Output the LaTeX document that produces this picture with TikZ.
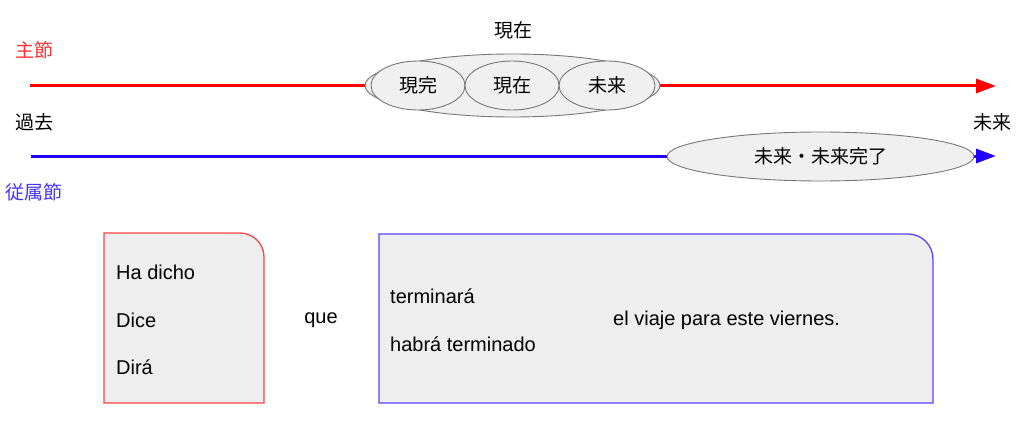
\documentclass[tikz,border=0pt]{standalone}
\usepackage{fontspec}
\setmainfont{Liberation Sans}
\newfontfamily\jp{Noto Sans CJK JP}
\usetikzlibrary{shapes.geometric,arrows.meta}
\definecolor{lred}{HTML}{FF0000}
\definecolor{lblue}{HTML}{2200FF}
\definecolor{tred}{HTML}{FF3333}
\definecolor{tblue}{HTML}{4433FF}
\definecolor{bred}{HTML}{FF4444}
\definecolor{bblue}{HTML}{5544FF}
\definecolor{boxfill}{HTML}{EEEEEE}
\definecolor{ellfill}{HTML}{F0F0F0}
\definecolor{ellline}{HTML}{777777}
\tikzset{
  jtext/.style={font=\jp\fontsize{19}{22}\selectfont, inner sep=0pt},
  ltext/.style={font=\fontsize{20}{24}\selectfont, inner sep=0pt},
  ell/.style={ellipse, draw=ellline, fill=ellfill, line width=0.9pt, inner sep=0pt},
  timeline/.style={line width=3pt, -{Triangle[length=20pt,width=14pt]}},
  boxline/.style={line width=1.3pt, fill=boxfill},
}
\begin{document}
\begin{tikzpicture}[x=1pt,y=1pt]
\useasboundingbox (0,0) rectangle (1024,421);
% timelines
\coordinate (rs) at (30,335);
\coordinate (re) at (996,335);
\coordinate (bs) at (31,265);
\coordinate (be) at (996,265);
\draw[timeline, lred] (rs) -- (re);
\draw[timeline, lblue] (bs) -- (be);
% ellipses on the main clause line
\node[ell, minimum width=295pt, minimum height=63pt] (big) at (512.5,335.5) {};
\node[ell, minimum width=94pt, minimum height=49pt] (e1) at (418,335.5) {};
\node[ell, minimum width=94pt, minimum height=49pt] (e2) at (512,335.5) {};
\node[ell, minimum width=96pt, minimum height=49pt] (e3) at (607,335.5) {};
\node[jtext] at (e1) {現完};
\node[jtext] at (e2) {現在};
\node[jtext] at (e3) {未来};
\node[ell, minimum width=307pt, minimum height=49pt] (fut) at (820.5,264.5) {};
\node[jtext] at (fut) {未来・未来完了};
% labels
\node[jtext] (now) at (513,391) {現在};
\node[jtext, text=tred] (main) at (35,371) {主節};
\node[jtext] (past) at (35,299) {過去};
\node[jtext, text=tblue] (sub) at (34,229) {従属節};
\node[jtext] (future) at (992,299) {未来};
% boxes
\draw[boxline, draw=bred] (104,18) -- (104,188) -- (240,188) arc[start angle=90,end angle=0,radius=24] -- (264,18) -- cycle;
\draw[boxline, draw=bblue] (379,18) -- (379,187) -- (908,187) arc[start angle=90,end angle=0,radius=25] -- (933,18) -- cycle;
\node[ltext, anchor=west] (hd) at (116,149) {Ha dicho};
\node[ltext, anchor=west] (dc) at (116,101) {Dice};
\node[ltext, anchor=west] (dr) at (116,54) {Dirá};
\node[ltext] (que) at (321,101) {que};
\node[ltext, anchor=west] (tm) at (390,125) {terminará};
\node[ltext, anchor=west] (ht) at (390,77) {habrá terminado};
\node[ltext, anchor=west] (ev) at (613,101) {el viaje para este viernes.};
\end{tikzpicture}
\end{document}
